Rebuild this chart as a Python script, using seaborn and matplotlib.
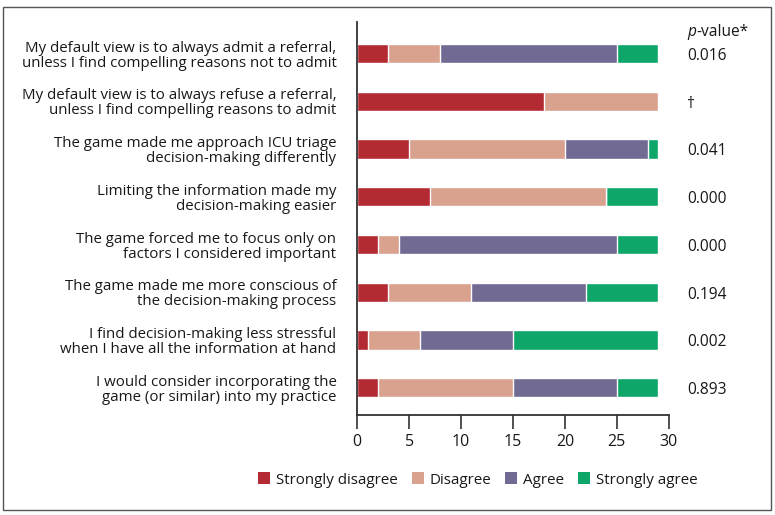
import pandas as pd
import matplotlib.pyplot as plt
import seaborn as sns
from matplotlib.patches import Patch, Rectangle

statements = [
    "My default view is to always admit a referral,\nunless I find compelling reasons not to admit",
    "My default view is to always refuse a referral,\nunless I find compelling reasons to admit",
    "The game made me approach ICU triage\ndecision-making differently",
    "Limiting the information made my\ndecision-making easier",
    "The game forced me to focus only on\nfactors I considered important",
    "The game made me more conscious of\nthe decision-making process",
    "I find decision-making less stressful\nwhen I have all the information at hand",
    "I would consider incorporating the\ngame (or similar) into my practice",
]
levels = ["Strongly disagree", "Disagree", "Agree", "Strongly agree"]
strongly_disagree = [3, 18, 5, 7, 2, 3, 1, 2]
disagree = [5, 11, 15, 17, 2, 8, 5, 13]
agree = [17, 0, 8, 0, 21, 11, 9, 10]
strongly_agree = [4, 0, 1, 5, 4, 7, 14, 4]
p_values = ["0.016", "\u2020", "0.041", "0.000", "0.000", "0.194", "0.002", "0.893"]
colors = ["#b42a33", "#d9a28f", "#716a92", "#0fa66a"]

df = pd.DataFrame({
    "Statement": statements,
    "Strongly disagree": strongly_disagree,
    "Disagree": disagree,
    "Agree": agree,
    "Strongly agree": strongly_agree,
})
# cumulative totals so the bars can be layered back to front
cum = df[levels].cumsum(axis=1)
cum["Statement"] = df["Statement"]

sns.set_theme(style="white")
plt.rcParams["font.family"] = ["Open Sans", "DejaVu Sans"]
text_color = "#1a1718"

fig = plt.figure(figsize=(7.75, 5.15), dpi=100)
ax = fig.add_axes([357.3 / 775, 1 - 415 / 515, 311.4 / 775, 393 / 515])

for level, color in reversed(list(zip(levels, colors))):
    sns.barplot(data=cum, x=level, y="Statement", order=statements, color=color,
                width=0.4, saturation=1, orient="h", ax=ax)

ax.set_xlim(0, 30)
ax.set_ylim(7.57, -0.66)
ax.set_xticks(range(0, 31, 5))
ax.set_xlabel("")
ax.set_ylabel("")
for side in ["top", "right"]:
    ax.spines[side].set_visible(False)
for side in ["left", "bottom"]:
    ax.spines[side].set_color("#333333")
    ax.spines[side].set_linewidth(1.3)
ax.tick_params(axis="x", direction="out", length=10, width=1.2, color="#333333",
               pad=4, labelsize=11.5, labelcolor=text_color, bottom=True)
ax.tick_params(axis="y", length=0, pad=15, labelsize=10.85, labelcolor=text_color)
for lab in ax.get_yticklabels():
    lab.set_linespacing(1.02)

# p-value column
header = ax.text(31.8, -0.46, "p", style="italic", fontsize=11.2, color=text_color,
                 ha="left", va="center", clip_on=False)
ax.annotate("-value*", xy=(1, 0), xycoords=header, va="bottom", ha="left",
            fontsize=11.2, color=text_color, annotation_clip=False)
for i, p in enumerate(p_values):
    ax.text(31.8, i + 0.05, p, fontsize=11.2, color=text_color, ha="left",
            va="center", clip_on=False)

handles = [Patch(facecolor=c, edgecolor="none", label=l) for l, c in zip(levels, colors)]
fig.legend(handles=handles, loc="center", bbox_to_anchor=(478 / 775, 1 - 480 / 515),
           ncol=4, frameon=False, fontsize=10.9, handlelength=0.8, handleheight=0.8,
           handletextpad=0.4, columnspacing=0.9, labelcolor=text_color)

fig.patches.append(Rectangle((3 / 775, 5 / 515), 768 / 775, 503 / 515,
                             transform=fig.transFigure, fill=False,
                             edgecolor="#555555", linewidth=1))

fig.savefig("out.png", dpi=100)
